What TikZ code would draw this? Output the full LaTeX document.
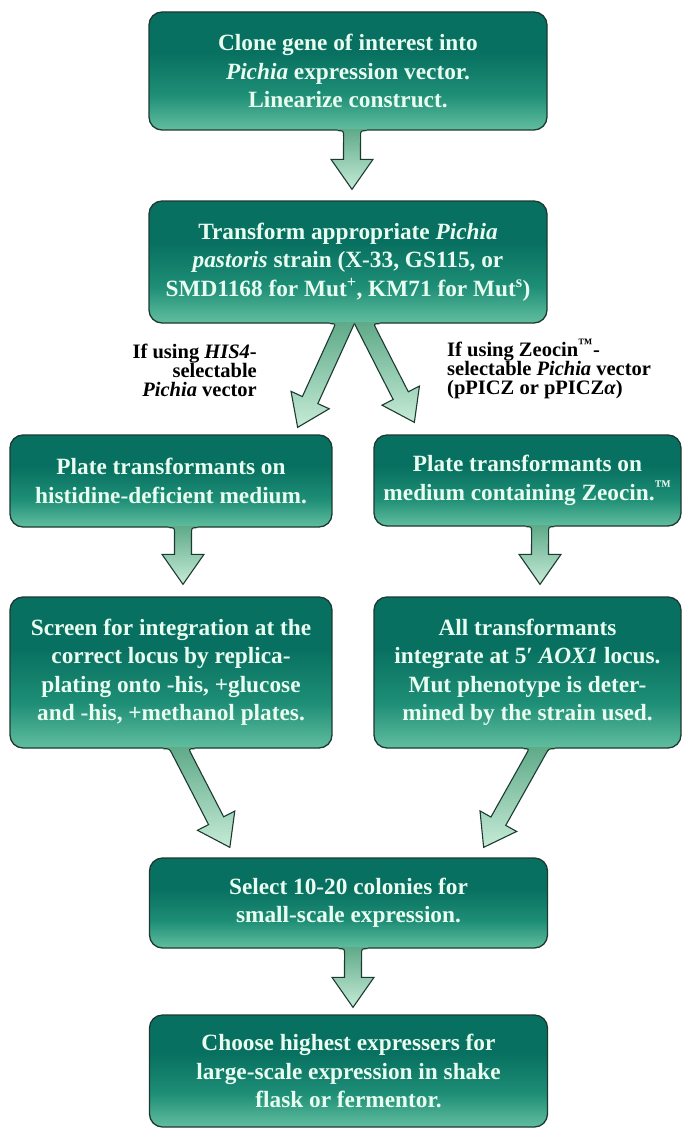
\documentclass[tikz,border=0pt]{standalone}
\usepackage{fontspec}
\setmainfont{Liberation Serif}
\usetikzlibrary{calc}
\definecolor{boxdark}{HTML}{087060}
\definecolor{boxmid}{HTML}{1E8E76}
\definecolor{boxlight}{HTML}{62BE9F}
\definecolor{txt}{HTML}{E8FCF0}
\definecolor{edge}{HTML}{1C3A31}
\definecolor{arrdark}{HTML}{5FAA89}
\definecolor{arrlight}{HTML}{C6EBD7}
\pgfdeclareverticalshading{boxshade}{100bp}{color(0bp)=(boxlight); color(25bp)=(boxlight); color(40bp)=(boxmid); color(58bp)=(boxdark); color(100bp)=(boxdark)}
\newcommand{\boxfnt}{\fontsize{23.3}{28.5}\selectfont\bfseries}
\newcommand{\lblfnt}{\fontsize{20.5}{19}\selectfont\bfseries}
\tikzset{
  stepbox/.style={rectangle, rounded corners=13pt, draw=edge, line width=1.3pt,
    shade, shading=boxshade, text=txt, font=\boxfnt, align=center, inner sep=0pt},
  arrowfill/.style={top color=arrdark, bottom color=arrlight},
  arrowline/.style={draw=edge, line width=1.1pt, line join=miter},
  lbl/.style={font=\lblfnt, text=black, inner sep=0pt}
}
% #1 start (on box bottom edge), #2 tip, #3 fillet on east side, #4 fillet on west side
\newcommand{\blockarrow}[4]{%
  \coordinate (ba-b) at ($(#2)!30pt!(#1)$);
  \coordinate (ba-sl) at ($(#1)!8.5pt!90:(#2)$);
  \coordinate (ba-sr) at ($(#1)!8.5pt!-90:(#2)$);
  \coordinate (ba-bl) at ($(ba-b)!8.5pt!90:(#2)$);
  \coordinate (ba-br) at ($(ba-b)!8.5pt!-90:(#2)$);
  \coordinate (ba-hl) at ($(ba-b)!21pt!90:(#2)$);
  \coordinate (ba-hr) at ($(ba-b)!21pt!-90:(#2)$);
  \coordinate (ba-h1) at ($(#1)+(-60,0)$);
  \coordinate (ba-h2) at ($(#1)+(60,0)$);
  \coordinate (ba-el) at (intersection of ba-sl--ba-bl and ba-h1--ba-h2);
  \coordinate (ba-er) at (intersection of ba-sr--ba-br and ba-h1--ba-h2);
  \coordinate (ba-pl) at ($(ba-el)!-#3pt!(#1)$);
  \coordinate (ba-pr) at ($(ba-er)!-#4pt!(#1)$);
  \coordinate (ba-dl) at ($(ba-el)!#3pt!(ba-bl)$);
  \coordinate (ba-dr) at ($(ba-er)!#4pt!(ba-br)$);
  \path[arrowfill] ($(ba-pl)+(0,-1.5)$) -- (ba-pl) .. controls (ba-el) .. (ba-dl) -- (ba-bl) -- (ba-hl) -- (#2)
     -- (ba-hr) -- (ba-br) -- (ba-dr) .. controls (ba-er) .. (ba-pr) -- ($(ba-pr)+(0,-1.5)$) -- cycle;
  \draw[arrowline] (ba-pl) .. controls (ba-el) .. (ba-dl) -- (ba-bl) -- (ba-hl) -- (#2)
     -- (ba-hr) -- (ba-br) -- (ba-dr) .. controls (ba-er) .. (ba-pr);
}
\begin{document}
\begin{tikzpicture}[x=1pt,y=-1pt]
\useasboundingbox[fill=white] (0,0) rectangle (686,1129);

\node[stepbox, minimum width=398pt, minimum height=118pt] (b1) at (348,71)
  {Clone gene of interest into\\ \textit{Pichia} expression vector.\\ Linearize construct.};
\node[stepbox, minimum width=398pt, minimum height=122pt] (b2) at (348,262)
  {Transform appropriate \textit{Pichia}\\ \textit{pastoris} strain (X-33, GS115, or\\ SMD1168 for Mut\textsuperscript{+}, KM71 for Mut\textsuperscript{s})};
\node[stepbox, minimum width=322pt, minimum height=92pt] (b3l) at (171,481)
  {Plate transformants on\\ histidine-deficient medium.};
\node[stepbox, minimum width=307pt, minimum height=91pt] (b3r) at (527.5,480.5)
  {Plate transformants on\\ medium containing Zeocin.\textsuperscript{™}};
\node[stepbox, minimum width=322pt, minimum height=151pt] (b4l) at (171,672.5)
  {Screen for integration at the\\ correct locus by replica-\\ plating onto -his, +glucose\\ and -his, +methanol plates.};
\node[stepbox, minimum width=307pt, minimum height=151pt] (b4r) at (527.5,672.5)
  {All transformants\\ integrate at 5′ \textit{AOX1} locus.\\ Mut phenotype is deter-\\ mined by the strain used.};
\node[stepbox, minimum width=398pt, minimum height=90pt] (b5) at (348.5,903)
  {Select 10-20 colonies for\\ small-scale expression.};
\node[stepbox, minimum width=398pt, minimum height=112pt] (b6) at (348.5,1071)
  {Choose highest expressers for\\ large-scale expression in shake\\ flask or fermentor.};

\node[lbl, align=right, anchor=east] (lblL) at (257,370)
  {If using \textit{HIS4}-\\ selectable\\ \textit{Pichia} vector};
\node[lbl, align=left, anchor=west] (lblR) at (447,369)
  {If using Zeocin\textsuperscript{™}-\\ selectable \textit{Pichia} vector\\ (pPICZ or pPICZ\textit{α})};

% arrow anchors
\coordinate (s1) at ($(b1.south)+(4,0)$);
\coordinate (t1) at ($(b2.north)+(4,-11)$);
\coordinate (s2l) at ($(b2.south)+(-3,0)$);
\coordinate (s2r) at ($(b2.south)+(16,0)$);
\coordinate (t2l) at ($(b3l.north east)+(-35,-7)$);
\coordinate (t2r) at ($(b3r.north west)+(41,-12)$);
\coordinate (s3l) at ($(b3l.south)+(12,0)$);
\coordinate (t3l) at ($(b4l.north)+(12,-12)$);
\coordinate (s3r) at ($(b3r.south)+(12.5,0)$);
\coordinate (t3r) at ($(b4r.north)+(12.5,-12)$);
\coordinate (s4l) at ($(b4l.south)+(8,0)$);
\coordinate (t4l) at ($(b5.north west)+(81,-10)$);
\coordinate (s4r) at ($(b4r.south)+(11.5,0)$);
\coordinate (t4r) at ($(b5.north east)+(-64.5,-10)$);
\coordinate (s5) at ($(b5.south)+(4.5,0)$);
\coordinate (t5) at ($(b6.north)+(4.5,-7)$);

\blockarrow{s1}{t1}{6}{6}
\blockarrow{s2l}{t2l}{0}{6}
\blockarrow{s2r}{t2r}{6}{0}
\blockarrow{s3l}{t3l}{6}{6}
\blockarrow{s3r}{t3r}{6}{6}
\blockarrow{s4l}{t4l}{6}{6}
\blockarrow{s4r}{t4r}{6}{6}
\blockarrow{s5}{t5}{6}{6}
\end{tikzpicture}
\end{document}
